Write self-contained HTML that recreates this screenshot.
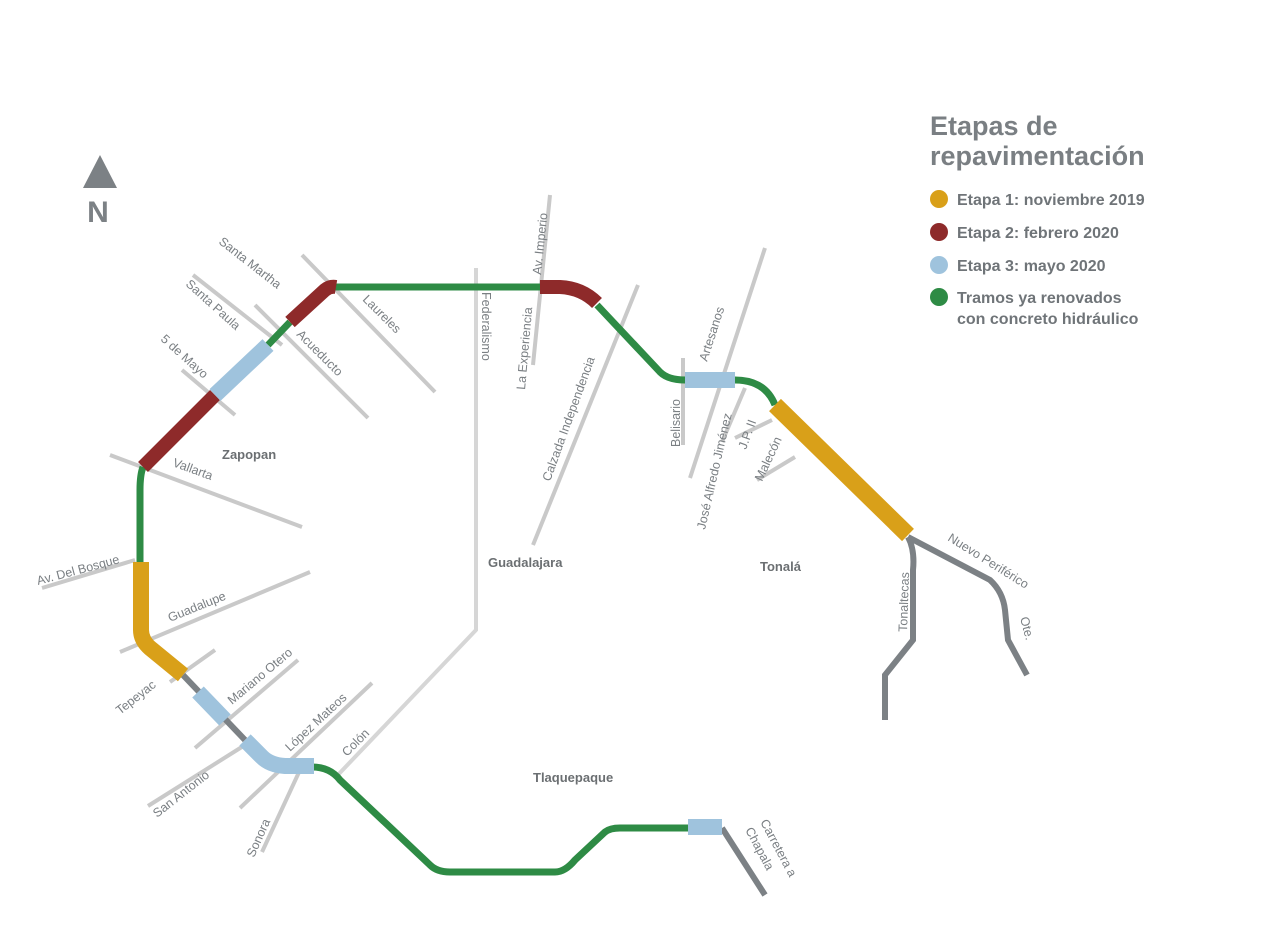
<!DOCTYPE html>
<html><head><meta charset="utf-8"><style>
body{margin:0;background:#fff;}
svg{display:block;font-family:"Liberation Sans",sans-serif;}
.st{stroke:#c9c9c9;stroke-width:4;fill:none;stroke-linecap:butt}
.lb{fill:#7a7f83;font-size:12.5px}
.rg{fill:#6b6f72;font-size:13px;font-weight:bold}
</style></head><body>
<svg width="1280" height="948" viewBox="0 0 1280 948">
<g class="st">
<line x1="302" y1="255" x2="435" y2="392"/>
<line x1="255" y1="305" x2="368" y2="418"/>
<line x1="193" y1="275" x2="282" y2="345"/>
<line x1="182" y1="370" x2="235" y2="415"/>
<line x1="110" y1="455" x2="302" y2="527"/>
<line x1="42" y1="588" x2="135" y2="560"/>
<line x1="120" y1="652" x2="310" y2="572"/>
<line x1="170" y1="682" x2="215" y2="650"/>
<line x1="195" y1="748" x2="298" y2="660"/>
<line x1="148" y1="806" x2="245" y2="745"/>
<line x1="240" y1="808" x2="372" y2="683"/>
<line x1="262" y1="852" x2="300" y2="770"/>
<line x1="550" y1="195" x2="533" y2="365"/>
<line x1="638" y1="285" x2="533" y2="545"/>
<line x1="765" y1="248" x2="690" y2="478"/>
<line x1="683" y1="358" x2="683" y2="445"/>
<line x1="745" y1="388" x2="722" y2="442"/>
<line x1="735" y1="438" x2="772" y2="420"/>
<line x1="757" y1="480" x2="795" y2="457"/>
</g>
<path d="M476 268 V630 L335 778" stroke="#d6d6d6" stroke-width="4" fill="none"/>
<path d="M143 467 Q140 475 140 490 V565 M268 345 L290 322 M335 287 H540 M597 305 L660 372 Q668 380 685 380 M735 380 Q765 380 775 405 M312 767 Q330 767 340 780 L430 865 Q437 872 450 872 H555 Q565 872 575 860 L605 832 Q610 828 620 828 H690" stroke="#2e8b45" stroke-width="7" fill="none"/>
<g stroke="#7c8185" stroke-width="6" fill="none">
<path d="M183 675 L245 740"/>
<path d="M722 828 L765 895"/>
<path d="M908 537 Q915 550 913 570 L913 640 L885 675 V720"/>
<path d="M908 537 L990 580 Q1003 592 1005 610 L1008 640 L1027 675"/>
</g>
<g stroke="#8e2a2a" stroke-width="14" fill="none">
<path d="M143 467 L215 395"/>
<path d="M290 322 L325 290 Q330 286 336 287"/>
<path d="M540 287 H560 Q582 288 597 303"/>
</g>
<path d="M141 562 V630 Q141 640 150 648 L183 675" stroke="#d9a019" stroke-width="16" fill="none"/>
<path d="M775 405 L908 535" stroke="#d9a019" stroke-width="17" fill="none"/>
<g stroke="#9fc3dd" stroke-width="16" fill="none">
<path d="M215 395 L268 345"/>
<path d="M198 692 L225 720"/>
<path d="M245 740 L262 757 Q270 765 285 766 H314"/>
<path d="M685 380 H735"/>
<path d="M688 827 H722"/>
</g>
<g class="lb">
<text transform="translate(218,243) rotate(38)">Santa Martha</text>
<text transform="translate(185,285) rotate(42)">Santa Paula</text>
<text transform="translate(160,340) rotate(42)">5 de Mayo</text>
<text transform="translate(362,300) rotate(45)">Laureles</text>
<text transform="translate(296,335) rotate(45)">Acueducto</text>
<text transform="translate(172,466) rotate(20)">Vallarta</text>
<text transform="translate(38,585) rotate(-15)">Av. Del Bosque</text>
<text transform="translate(170,622) rotate(-22)">Guadalupe</text>
<text transform="translate(120,715) rotate(-38)">Tepeyac</text>
<text transform="translate(232,705) rotate(-40)">Mariano Otero</text>
<text transform="translate(157,818) rotate(-38)">San Antonio</text>
<text transform="translate(290,752) rotate(-43)">López Mateos</text>
<text transform="translate(347,757) rotate(-45)">Colón</text>
<text transform="translate(254,858) rotate(-66)">Sonora</text>
<text transform="translate(482,292) rotate(90)">Federalismo</text>
<text transform="translate(525,390) rotate(-85)">La Experiencia</text>
<text transform="translate(541,275) rotate(-84)">Av. Imperio</text>
<text transform="translate(550,482) rotate(-70)">Calzada Independencia</text>
<text transform="translate(707,362) rotate(-72)">Artesanos</text>
<text transform="translate(680,447) rotate(-90)">Belisario</text>
<text transform="translate(705,530) rotate(-77)">José Alfredo Jiménez</text>
<text transform="translate(746,450) rotate(-70)">J.P. II</text>
<text transform="translate(762,482) rotate(-65)">Malecón</text>
<text transform="translate(907,632) rotate(-88)">Tonaltecas</text>
<text transform="translate(947,540) rotate(32)">Nuevo Periférico</text>
<text transform="translate(1020,618) rotate(75)">Ote.</text>
<text transform="translate(760,822) rotate(62)">Carretera a</text>
<text transform="translate(745,830) rotate(62)">Chapala</text>
</g>
<g class="rg">
<text x="222" y="459">Zapopan</text>
<text x="488" y="567">Guadalajara</text>
<text x="760" y="571">Tonalá</text>
<text x="533" y="782">Tlaquepaque</text>
</g>
<polygon points="100,155 83,188 117,188" fill="#7c8185"/>
<text x="98" y="222" text-anchor="middle" font-size="30" font-weight="bold" fill="#7c8185">N</text>
<text x="930" y="135" font-size="27" font-weight="bold" fill="#7a7f83">Etapas de</text>
<text x="930" y="165" font-size="27" font-weight="bold" fill="#7a7f83">repavimentación</text>
<g font-size="16" font-weight="bold" fill="#6f7478">
<circle cx="939" cy="199" r="9" fill="#d9a019"/><text x="957" y="205">Etapa 1: noviembre 2019</text>
<circle cx="939" cy="232" r="9" fill="#8e2a2a"/><text x="957" y="238">Etapa 2: febrero 2020</text>
<circle cx="939" cy="265" r="9" fill="#9fc3dd"/><text x="957" y="271">Etapa 3: mayo 2020</text>
<circle cx="939" cy="297" r="9" fill="#2e8b45"/><text x="957" y="303">Tramos ya renovados</text>
<text x="957" y="324">con concreto hidráulico</text>
</g>
</svg>
</body></html>
